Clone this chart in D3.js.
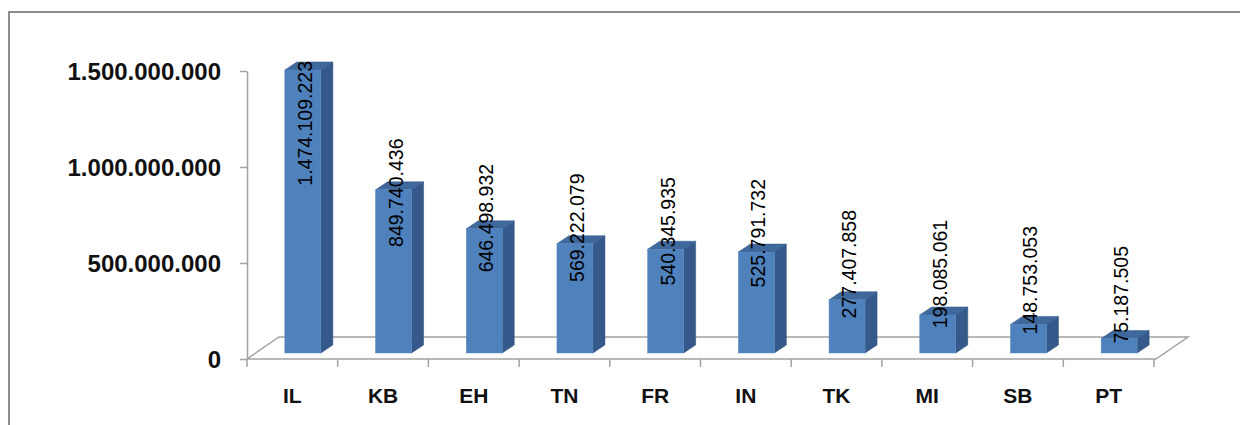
<!DOCTYPE html>
<html>
<head>
<meta charset="utf-8">
<script src="https://cdn.jsdelivr.net/npm/d3@7"></script>
<style>
  html, body { margin: 0; padding: 0; background: #fff; overflow: hidden; }
  svg { display: block; }
</style>
</head>
<body>
<svg id="chart" width="1240" height="425"></svg>
<script>
const categories = ["IL", "KB", "EH", "TN", "FR", "IN", "TK", "MI", "SB", "PT"];
const values = [1474109223, 849740436, 646498932, 569222079, 540345935, 525791732, 277407858, 198085061, 148753053, 75187505];
const yTicks = [0, 500000000, 1000000000, 1500000000];

const W = 1240, H = 425;
const svg = d3.select("#chart");

const locale = d3.formatLocale({ decimal: ",", thousands: ".", grouping: [3], currency: ["", ""] });
const fmt = locale.format(",d");

// frame
svg.append("rect")
  .attr("x", 9).attr("y", 12)
  .attr("width", W).attr("height", H)
  .attr("fill", "#fff").attr("stroke", "#8c8c8c").attr("stroke-width", 2);

const x = d3.scaleBand().domain(categories).range([247, 1154]).padding(0);
const y = d3.scaleLinear().domain([0, 1500000000]).range([359, 71]);

const depthX = 32, depthY = -22;     // floor depth
const barW = 36, bdx = 12, bdy = -8; // bar width and bar depth
const shiftX = 10.5, shiftY = -6;    // bar position inside the floor depth
const gray = "#a3a3a3";

// floor outline
const x0 = x.range()[0], x1 = x.range()[1] + 2, y0 = y(0);
svg.append("polygon")
  .attr("points", [[x0, y0], [x1, y0], [x1 + depthX, y0 + depthY], [x0 + depthX, y0 + depthY]].map(p => p.join(",")).join(" "))
  .attr("fill", "none").attr("stroke", gray).attr("stroke-width", 1.5);

// y axis
const yAxis = d3.axisLeft(y).tickValues(yTicks).tickFormat(fmt).tickSize(7).tickSizeOuter(0).tickPadding(19);
const gy = svg.append("g").attr("transform", `translate(${x0},0)`).call(yAxis);
gy.select(".domain").attr("stroke", gray).attr("stroke-width", 1.5);
gy.selectAll(".tick line").attr("stroke", gray).attr("stroke-width", 1.5);
gy.selectAll(".tick text")
  .attr("font-family", "'Liberation Sans', Arial, sans-serif")
  .attr("font-weight", "bold").attr("font-size", 24).attr("fill", "#111")
  .attr("dy", "0.36em");

// x axis ticks at category boundaries
const bounds = categories.map(c => x(c)).concat([x.range()[1]]);
svg.append("g").selectAll("line").data(bounds).join("line")
  .attr("x1", d => d).attr("x2", d => d)
  .attr("y1", y0).attr("y2", y0 + 8)
  .attr("stroke", gray).attr("stroke-width", 1.5);

// category labels
svg.append("g").selectAll("text").data(categories).join("text")
  .attr("x", d => x(d) + x.bandwidth() / 2)
  .attr("y", 403)
  .attr("text-anchor", "middle")
  .attr("font-family", "'Liberation Sans', Arial, sans-serif")
  .attr("font-weight", "bold").attr("font-size", 21).attr("fill", "#111")
  .text(d => d);

// bars
const data = categories.map((c, i) => ({ c, v: values[i] }));
const bars = svg.append("g").selectAll("g").data(data).join("g");

function geom(d) {
  const cx = x(d.c) + x.bandwidth() / 2 + shiftX;
  const xl = cx - barW / 2, xr = cx + barW / 2;
  const yt = y(d.v) + shiftY, yb = y(0) + shiftY;
  return { cx, xl, xr, yt, yb };
}
const pts = a => a.map(p => p.join(",")).join(" ");

bars.append("polygon")
  .attr("points", d => { const g = geom(d); return pts([[g.xr, g.yt], [g.xr + bdx, g.yt + bdy], [g.xr + bdx, g.yb + bdy], [g.xr, g.yb]]); })
  .attr("fill", "#35598a").attr("stroke", "#2f5079").attr("stroke-width", 0.5);
bars.append("polygon")
  .attr("points", d => { const g = geom(d); return pts([[g.xl, g.yt], [g.xl + bdx, g.yt + bdy], [g.xr + bdx, g.yt + bdy], [g.xr, g.yt]]); })
  .attr("fill", "#3f689c").attr("stroke", "#36598a").attr("stroke-width", 0.5);
bars.append("rect")
  .attr("x", d => geom(d).xl).attr("y", d => geom(d).yt)
  .attr("width", barW).attr("height", d => geom(d).yb - geom(d).yt)
  .attr("fill", "#4f81bd").attr("stroke", "#5a8ac4").attr("stroke-width", 0.5);

// value labels (rotated)
const plotTop = 61;
bars.append("text")
  .attr("font-family", "'Liberation Sans', Arial, sans-serif")
  .attr("font-size", 19.5).attr("fill", "#000")
  .attr("text-anchor", "start")
  .attr("dy", "0.36em")
  .text(d => fmt(d.v))
  .each(function (d) {
    const g = geom(d);
    const L = this.getComputedTextLength();
    let bottom = g.yt + 0.35 * (g.yb - g.yt);
    if (bottom - L < plotTop) bottom = plotTop + L;
    d3.select(this).attr("transform", `translate(${g.cx + 2},${bottom}) rotate(-90)`);
  });
</script>
</body>
</html>
